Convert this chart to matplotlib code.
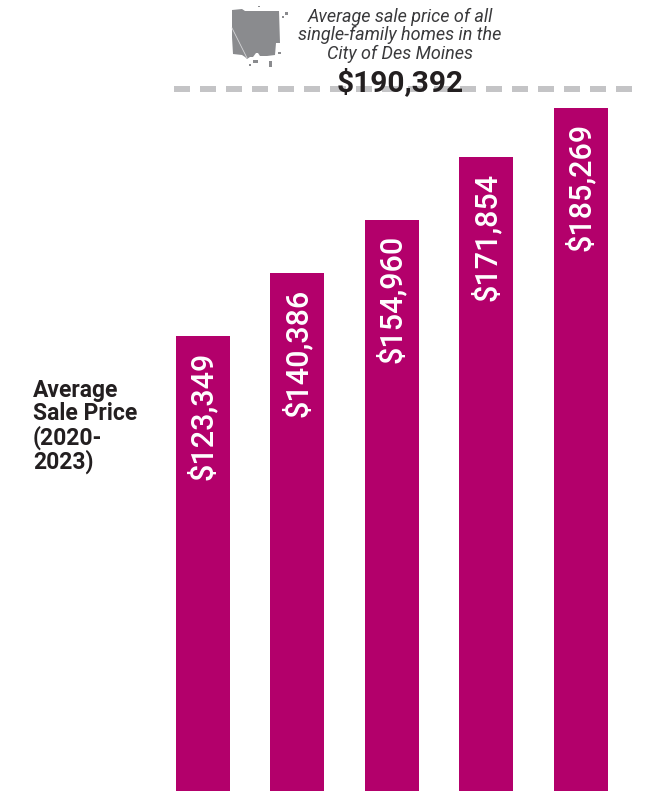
import matplotlib.pyplot as plt
from matplotlib.lines import Line2D
from matplotlib.patches import Polygon

W, H = 650, 791
BAR_COLOR = '#b3006b'
TEXT_COLOR = '#231f20'
MAP_COLOR = '#8a8b8e'

years = [2020, 2021, 2022, 2023, 2024]
prices = [123349, 140386, 154960, 171854, 185269]
price_labels = ['$123,349', '$140,386', '$154,960', '$171,854', '$185,269']
city_price = 190392
city_label = '$190,392'
city_caption = ['Average sale price of all', 'single-family homes in the', 'City of Des Moines']
side_title = ['Average', 'Sale Price']
side_years = ['(2020-', '2023)']

# outline of the city, in pixels from the top left corner
city_shape = [(232, 10), (242, 9), (245, 11), (279, 11), (280, 43), (276, 43),
              (275, 55), (267, 56), (260, 56), (258, 53), (256, 53), (253, 57),
              (250, 57), (247, 59), (245, 57), (242, 55), (233, 54), (232, 37)]
# small detached pieces: x, y, width, height
city_specks = [(269, 61, 3, 6), (278, 52, 3, 2), (285, 12, 3, 3), (282, 16, 2, 2),
               (253, 60, 5, 3), (249, 64, 2, 2), (258, 6, 2, 1)]


def px(x, y):
    return x / W, 1 - y / H


def main():
    plt.rcParams['font.family'] = ['Roboto', 'DejaVu Sans']
    fig = plt.figure(figsize=(W / 100, H / 100), dpi=100)

    # one bar slot is 94.5 px wide, first bar centred at x=203
    ax = fig.add_axes([0, 0, 1, 1])
    ax.set_xlim(-202.8 / 94.5, (W - 202.8) / 94.5)
    ax.set_ylim(0, H / 0.003687)
    ax.axis('off')

    slots = range(len(years))
    ax.bar(slots, prices, width=54 / 94.5, color=BAR_COLOR)
    for i in slots:
        ax.annotate(price_labels[i], (i, prices[i]), xytext=(0, -11),
                    textcoords='offset points', rotation=90, ha='center', va='top',
                    color='white', fontsize=22, fontweight='medium')

    ax.plot([(174 - 202.8) / 94.5, (633 - 202.8) / 94.5], [city_price, city_price],
            color='#c4c4c6', lw=4.32, linestyle=(0, (16 / 6, 10 / 6)),
            dash_capstyle='butt', zorder=1)

    fig.add_artist(Polygon([px(*p) for p in city_shape], closed=True,
                           transform=fig.transFigure, color=MAP_COLOR, lw=0))
    for x, y, w, h in city_specks:
        corners = [(x, y), (x + w, y), (x + w, y + h), (x, y + h)]
        fig.add_artist(Polygon([px(*p) for p in corners], closed=True,
                               transform=fig.transFigure, color=MAP_COLOR, lw=0))
    # thin light seam across the lower left of the city
    seam_x, seam_y = zip(px(232, 28), px(247, 58))
    fig.add_artist(Line2D(seam_x, seam_y, transform=fig.transFigure, color='#d5d5d7', lw=0.6))

    for line, y in zip(city_caption, [17, 35, 54]):
        fig.text(*px(400, y), line, ha='center', va='center', style='italic',
                 color='#3a3a3c', fontsize=13)
    fig.text(*px(400, 83), city_label, ha='center', va='center', color=TEXT_COLOR,
             fontsize=21.5, fontweight='bold', zorder=5)

    for line, y in zip(side_title, [390, 414]):
        fig.text(*px(33, y), line, va='center', color=TEXT_COLOR, fontsize=16.5, fontweight='bold')
    for line, y in zip(side_years, [438, 462]):
        fig.text(*px(33, y), line, va='center', color=TEXT_COLOR, fontsize=16.5, fontweight='bold')

    fig.savefig('out.png', dpi=100)


if __name__ == '__main__':
    main()
